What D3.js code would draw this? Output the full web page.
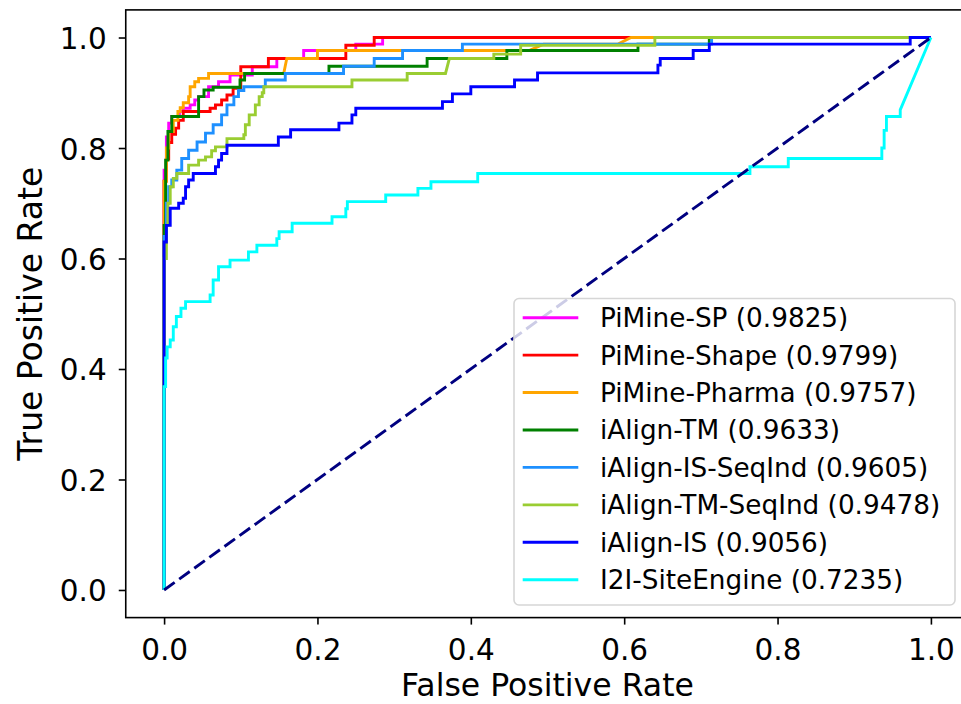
<!DOCTYPE html>
<html>
<head>
<meta charset="utf-8">
<script src="https://cdn.jsdelivr.net/npm/d3@7/dist/d3.min.js"></script>
<style>
  html, body { margin: 0; padding: 0; background: #fff; overflow: hidden; }
  svg { display: block; font-family: "DejaVu Sans", sans-serif; }
</style>
</head>
<body>
<svg id="chart" width="961" height="704"></svg>
<script>
// ROC curves: each array is a list of [false positive rate, true positive rate] points
const piMineSP = [[0,0],[0,0.76],[0.003,0.76],[0.003,0.82],[0.006,0.82],[0.006,0.845],[0.01,0.845],[0.01,0.857],[0.02,0.857],[0.02,0.866],[0.025,0.866],[0.025,0.872],[0.034,0.872],[0.034,0.878],[0.04,0.878],[0.04,0.887],[0.045,0.887],[0.045,0.893],[0.058,0.893],[0.058,0.911],[0.071,0.911],[0.071,0.92],[0.086,0.92],[0.086,0.932],[0.115,0.932],[0.115,0.947],[0.147,0.947],[0.147,0.962],[0.182,0.962],[0.182,0.9765],[0.25,0.9765],[0.25,0.988],[0.285,0.988],[0.285,1.0],[1,1]];

const piMineShape = [[0,0],[0,0.74],[0.003,0.74],[0.003,0.78],[0.006,0.78],[0.006,0.81],[0.01,0.81],[0.01,0.825],[0.015,0.825],[0.015,0.836],[0.019,0.836],[0.019,0.85],[0.025,0.85],[0.025,0.866],[0.06,0.866],[0.06,0.872],[0.067,0.872],[0.067,0.878],[0.075,0.878],[0.075,0.887],[0.082,0.887],[0.082,0.896],[0.09,0.896],[0.09,0.908],[0.1,0.908],[0.1,0.947],[0.136,0.947],[0.136,0.962],[0.237,0.962],[0.237,0.986],[0.274,0.986],[0.274,1.0],[1,1]];

const piMinePharma = [[0,0],[0,0.74],[0.003,0.74],[0.003,0.8],[0.006,0.8],[0.006,0.83],[0.012,0.83],[0.012,0.85],[0.018,0.85],[0.018,0.866],[0.021,0.866],[0.021,0.873],[0.025,0.873],[0.025,0.882],[0.032,0.882],[0.032,0.893],[0.034,0.893],[0.034,0.911],[0.04,0.911],[0.04,0.92],[0.045,0.92],[0.045,0.926],[0.058,0.926],[0.058,0.935],[0.156,0.935],[0.16,0.962],[0.2,0.962],[0.2,0.9765],[0.476,0.9765],[0.495,0.988],[0.592,0.988],[0.609,1.0],[1,1]];

const iAlignTM = [[0,0],[0,0.66],[0.002,0.66],[0.002,0.778],[0.005,0.778],[0.005,0.83],[0.01,0.83],[0.01,0.857],[0.045,0.857],[0.045,0.893],[0.052,0.893],[0.052,0.905],[0.064,0.905],[0.064,0.91],[0.099,0.91],[0.099,0.923],[0.105,0.923],[0.105,0.935],[0.215,0.935],[0.215,0.948],[0.343,0.948],[0.343,0.962],[0.447,0.962],[0.447,0.9765],[0.618,0.9765],[0.618,0.988],[0.711,0.988],[0.711,1.0],[1,1]];

const iAlignISSeqInd = [[0,0],[0,0.64],[0.003,0.64],[0.003,0.7],[0.006,0.7],[0.006,0.73],[0.01,0.73],[0.01,0.742],[0.0166,0.742],[0.0166,0.76],[0.023,0.76],[0.023,0.781],[0.032,0.781],[0.032,0.796],[0.043,0.796],[0.043,0.811],[0.054,0.811],[0.054,0.827],[0.064,0.827],[0.064,0.842],[0.075,0.842],[0.075,0.86],[0.082,0.86],[0.082,0.878],[0.091,0.878],[0.091,0.893],[0.097,0.893],[0.097,0.904],[0.104,0.904],[0.104,0.911],[0.132,0.911],[0.132,0.923],[0.158,0.923],[0.158,0.935],[0.234,0.935],[0.234,0.948],[0.274,0.948],[0.274,0.962],[0.311,0.962],[0.311,0.9765],[0.389,0.9765],[0.389,0.988],[0.714,0.988],[0.714,1.0],[1,1]];

const iAlignTMSeqInd = [[0,0],[0,0.6],[0.003,0.6],[0.003,0.66],[0.005,0.66],[0.005,0.7],[0.008,0.7],[0.008,0.73],[0.012,0.73],[0.012,0.745],[0.0166,0.745],[0.0166,0.754],[0.032,0.754],[0.032,0.769],[0.045,0.769],[0.045,0.778],[0.054,0.778],[0.054,0.784],[0.062,0.784],[0.062,0.795],[0.067,0.795],[0.067,0.802],[0.082,0.802],[0.082,0.817],[0.104,0.817],[0.104,0.824],[0.106,0.824],[0.106,0.842],[0.111,0.842],[0.111,0.86],[0.119,0.86],[0.119,0.878],[0.124,0.878],[0.124,0.893],[0.128,0.893],[0.128,0.9],[0.13,0.9],[0.13,0.911],[0.245,0.911],[0.245,0.923],[0.317,0.923],[0.317,0.935],[0.367,0.935],[0.372,0.962],[0.43,0.962],[0.43,0.97],[0.465,0.97],[0.465,0.986],[0.64,0.986],[0.64,1.0],[1,1]];

const iAlignIS = [[0,0],[0,0.63],[0.003,0.63],[0.003,0.66],[0.008,0.66],[0.008,0.691],[0.019,0.691],[0.019,0.7],[0.025,0.7],[0.025,0.709],[0.028,0.709],[0.028,0.73],[0.032,0.73],[0.032,0.742],[0.038,0.742],[0.038,0.754],[0.067,0.754],[0.067,0.766],[0.071,0.766],[0.071,0.778],[0.075,0.778],[0.075,0.79],[0.082,0.79],[0.082,0.805],[0.149,0.805],[0.149,0.82],[0.165,0.82],[0.165,0.833],[0.228,0.833],[0.228,0.845],[0.245,0.845],[0.245,0.86],[0.25,0.86],[0.25,0.872],[0.363,0.872],[0.363,0.884],[0.376,0.884],[0.376,0.898],[0.4,0.898],[0.4,0.911],[0.457,0.911],[0.457,0.923],[0.487,0.923],[0.487,0.936],[0.644,0.936],[0.644,0.95],[0.647,0.95],[0.647,0.962],[0.69,0.962],[0.69,0.9765],[0.711,0.9765],[0.711,0.988],[0.973,0.988],[0.973,1.0],[1,1]];

const i2iSiteEngine = [[0,0],[0,0.368],[0.002,0.368],[0.002,0.42],[0.004,0.42],[0.004,0.44],[0.008,0.44],[0.008,0.4525],[0.012,0.4525],[0.012,0.4766],[0.016,0.4766],[0.016,0.495],[0.022,0.495],[0.022,0.51],[0.028,0.51],[0.028,0.522],[0.06,0.522],[0.06,0.534],[0.064,0.534],[0.064,0.561],[0.071,0.561],[0.071,0.585],[0.086,0.585],[0.086,0.597],[0.11,0.597],[0.11,0.612],[0.121,0.612],[0.121,0.624],[0.147,0.624],[0.147,0.636],[0.15,0.636],[0.15,0.6485],[0.167,0.6485],[0.167,0.6637],[0.219,0.6637],[0.219,0.6757],[0.237,0.6757],[0.237,0.69],[0.239,0.69],[0.239,0.703],[0.289,0.703],[0.289,0.715],[0.331,0.715],[0.331,0.727],[0.348,0.727],[0.348,0.739],[0.409,0.739],[0.409,0.754],[0.764,0.754],[0.764,0.766],[0.814,0.766],[0.814,0.781],[0.936,0.781],[0.936,0.8],[0.939,0.8],[0.939,0.832],[0.942,0.832],[0.942,0.857],[0.96,0.857],[0.96,0.869],[1,1]];

// Chance diagonal
const chanceLine = [[0,0],[1,1]];

// Method names and areas under the curves, in plotting order
const methodNames = ["PiMine-SP","PiMine-Shape","PiMine-Pharma","iAlign-TM","iAlign-IS-SeqInd","iAlign-TM-SeqInd","iAlign-IS","I2I-SiteEngine"];
const aucValues = [0.9825,0.9799,0.9757,0.9633,0.9605,0.9478,0.9056,0.7235];
const curveData = [piMineSP,piMineShape,piMinePharma,iAlignTM,iAlignISSeqInd,iAlignTMSeqInd,iAlignIS,i2iSiteEngine];

// Axis ticks
const fprTicks = [0,0.2,0.4,0.6,0.8,1.0];
const tprTicks = [0,0.2,0.4,0.6,0.8,1.0];

// Line colours, one per method
const palette = ["#ff00ff","#ff0000","#ffa500","#008000","#1e90ff","#9acd32","#0000ff","#00ffff"];

const svg = d3.select("#chart");
const x = d3.scaleLinear().domain([-0.05, 1.05]).range([125.75, 969.25]);
const y = d3.scaleLinear().domain([-0.05, 1.05]).range([617.6, 9.9]);

const plot = svg.append("g");
const line = d3.line().x(d => x(d[0])).y(d => y(d[1]));

plot.append("clipPath").attr("id", "plotClip")
  .append("rect").attr("x", x(-0.05)).attr("y", y(1.05))
  .attr("width", x(1.05) - x(-0.05)).attr("height", y(-0.05) - y(1.05));

const curves = plot.append("g").attr("clip-path", "url(#plotClip)");
curveData.forEach((pts, i) => {
  curves.append("path")
    .attr("d", line(pts))
    .attr("fill", "none")
    .attr("stroke", palette[i])
    .attr("stroke-width", 2.9)
    .attr("stroke-linejoin", "miter")
    .attr("stroke-linecap", "butt");
});
curves.append("path")
  .attr("d", line(chanceLine))
  .attr("fill", "none")
  .attr("stroke", "#000080")
  .attr("stroke-width", 2.9)
  .attr("stroke-dasharray", "13 5.6");

// Axes
const xAxis = d3.axisBottom(x).tickValues(fprTicks).tickFormat(d3.format(".1f")).tickSize(7).tickPadding(7);
const yAxis = d3.axisLeft(y).tickValues(tprTicks).tickFormat(d3.format(".1f")).tickSize(7).tickPadding(7);

const gx = svg.append("g").attr("transform", `translate(0,${y(-0.05)})`).call(xAxis);
const gy = svg.append("g").attr("transform", `translate(${x(-0.05)},0)`).call(yAxis);
[gx, gy].forEach(g => {
  g.select(".domain").remove();
  g.selectAll(".tick line").attr("stroke", "#000").attr("stroke-width", 1.6);
  g.selectAll(".tick text").attr("fill", "#000").style("font-size", "29.5px").style("font-family", "DejaVu Sans");
});
gx.selectAll(".tick text").attr("dy", null).attr("y", 42.5);
gy.selectAll(".tick text").attr("dy", null).attr("x", -19).attr("y", 11);

// Frame
svg.append("rect")
  .attr("x", x(-0.05)).attr("y", y(1.05))
  .attr("width", x(1.05) - x(-0.05)).attr("height", y(-0.05) - y(1.05))
  .attr("fill", "none").attr("stroke", "#000").attr("stroke-width", 1.6);

// Axis titles
svg.append("text")
  .attr("x", (x(-0.05) + x(1.05)) / 2).attr("y", 695.5)
  .attr("text-anchor", "middle").style("font-size", "31.5px")
  .text("False Positive Rate");
svg.append("text")
  .attr("transform", `translate(42,${(y(-0.05) + y(1.05)) / 2}) rotate(-90)`)
  .attr("text-anchor", "middle").style("font-size", "33px")
  .text("True Positive Rate");

// Legend
const legend = svg.append("g");
legend.append("rect")
  .attr("x", 514).attr("y", 298.5).attr("width", 441).attr("height", 306.5)
  .attr("rx", 5).attr("ry", 5)
  .attr("fill", "#fff").attr("fill-opacity", 0.8)
  .attr("stroke", "#d6d6d6").attr("stroke-width", 1.6);
methodNames.forEach((name, i) => {
  const cy = 317.7 + i * 37.43;
  legend.append("line")
    .attr("x1", 522.7).attr("x2", 578.3).attr("y1", cy).attr("y2", cy)
    .attr("stroke", palette[i]).attr("stroke-width", 2.9);
  legend.append("text")
    .attr("x", 600).attr("y", cy + 9.5)
    .style("font-size", "26.3px").attr("fill", "#000")
    .text(`${name} (${aucValues[i].toFixed(4)})`);
});
</script>
</body>
</html>
